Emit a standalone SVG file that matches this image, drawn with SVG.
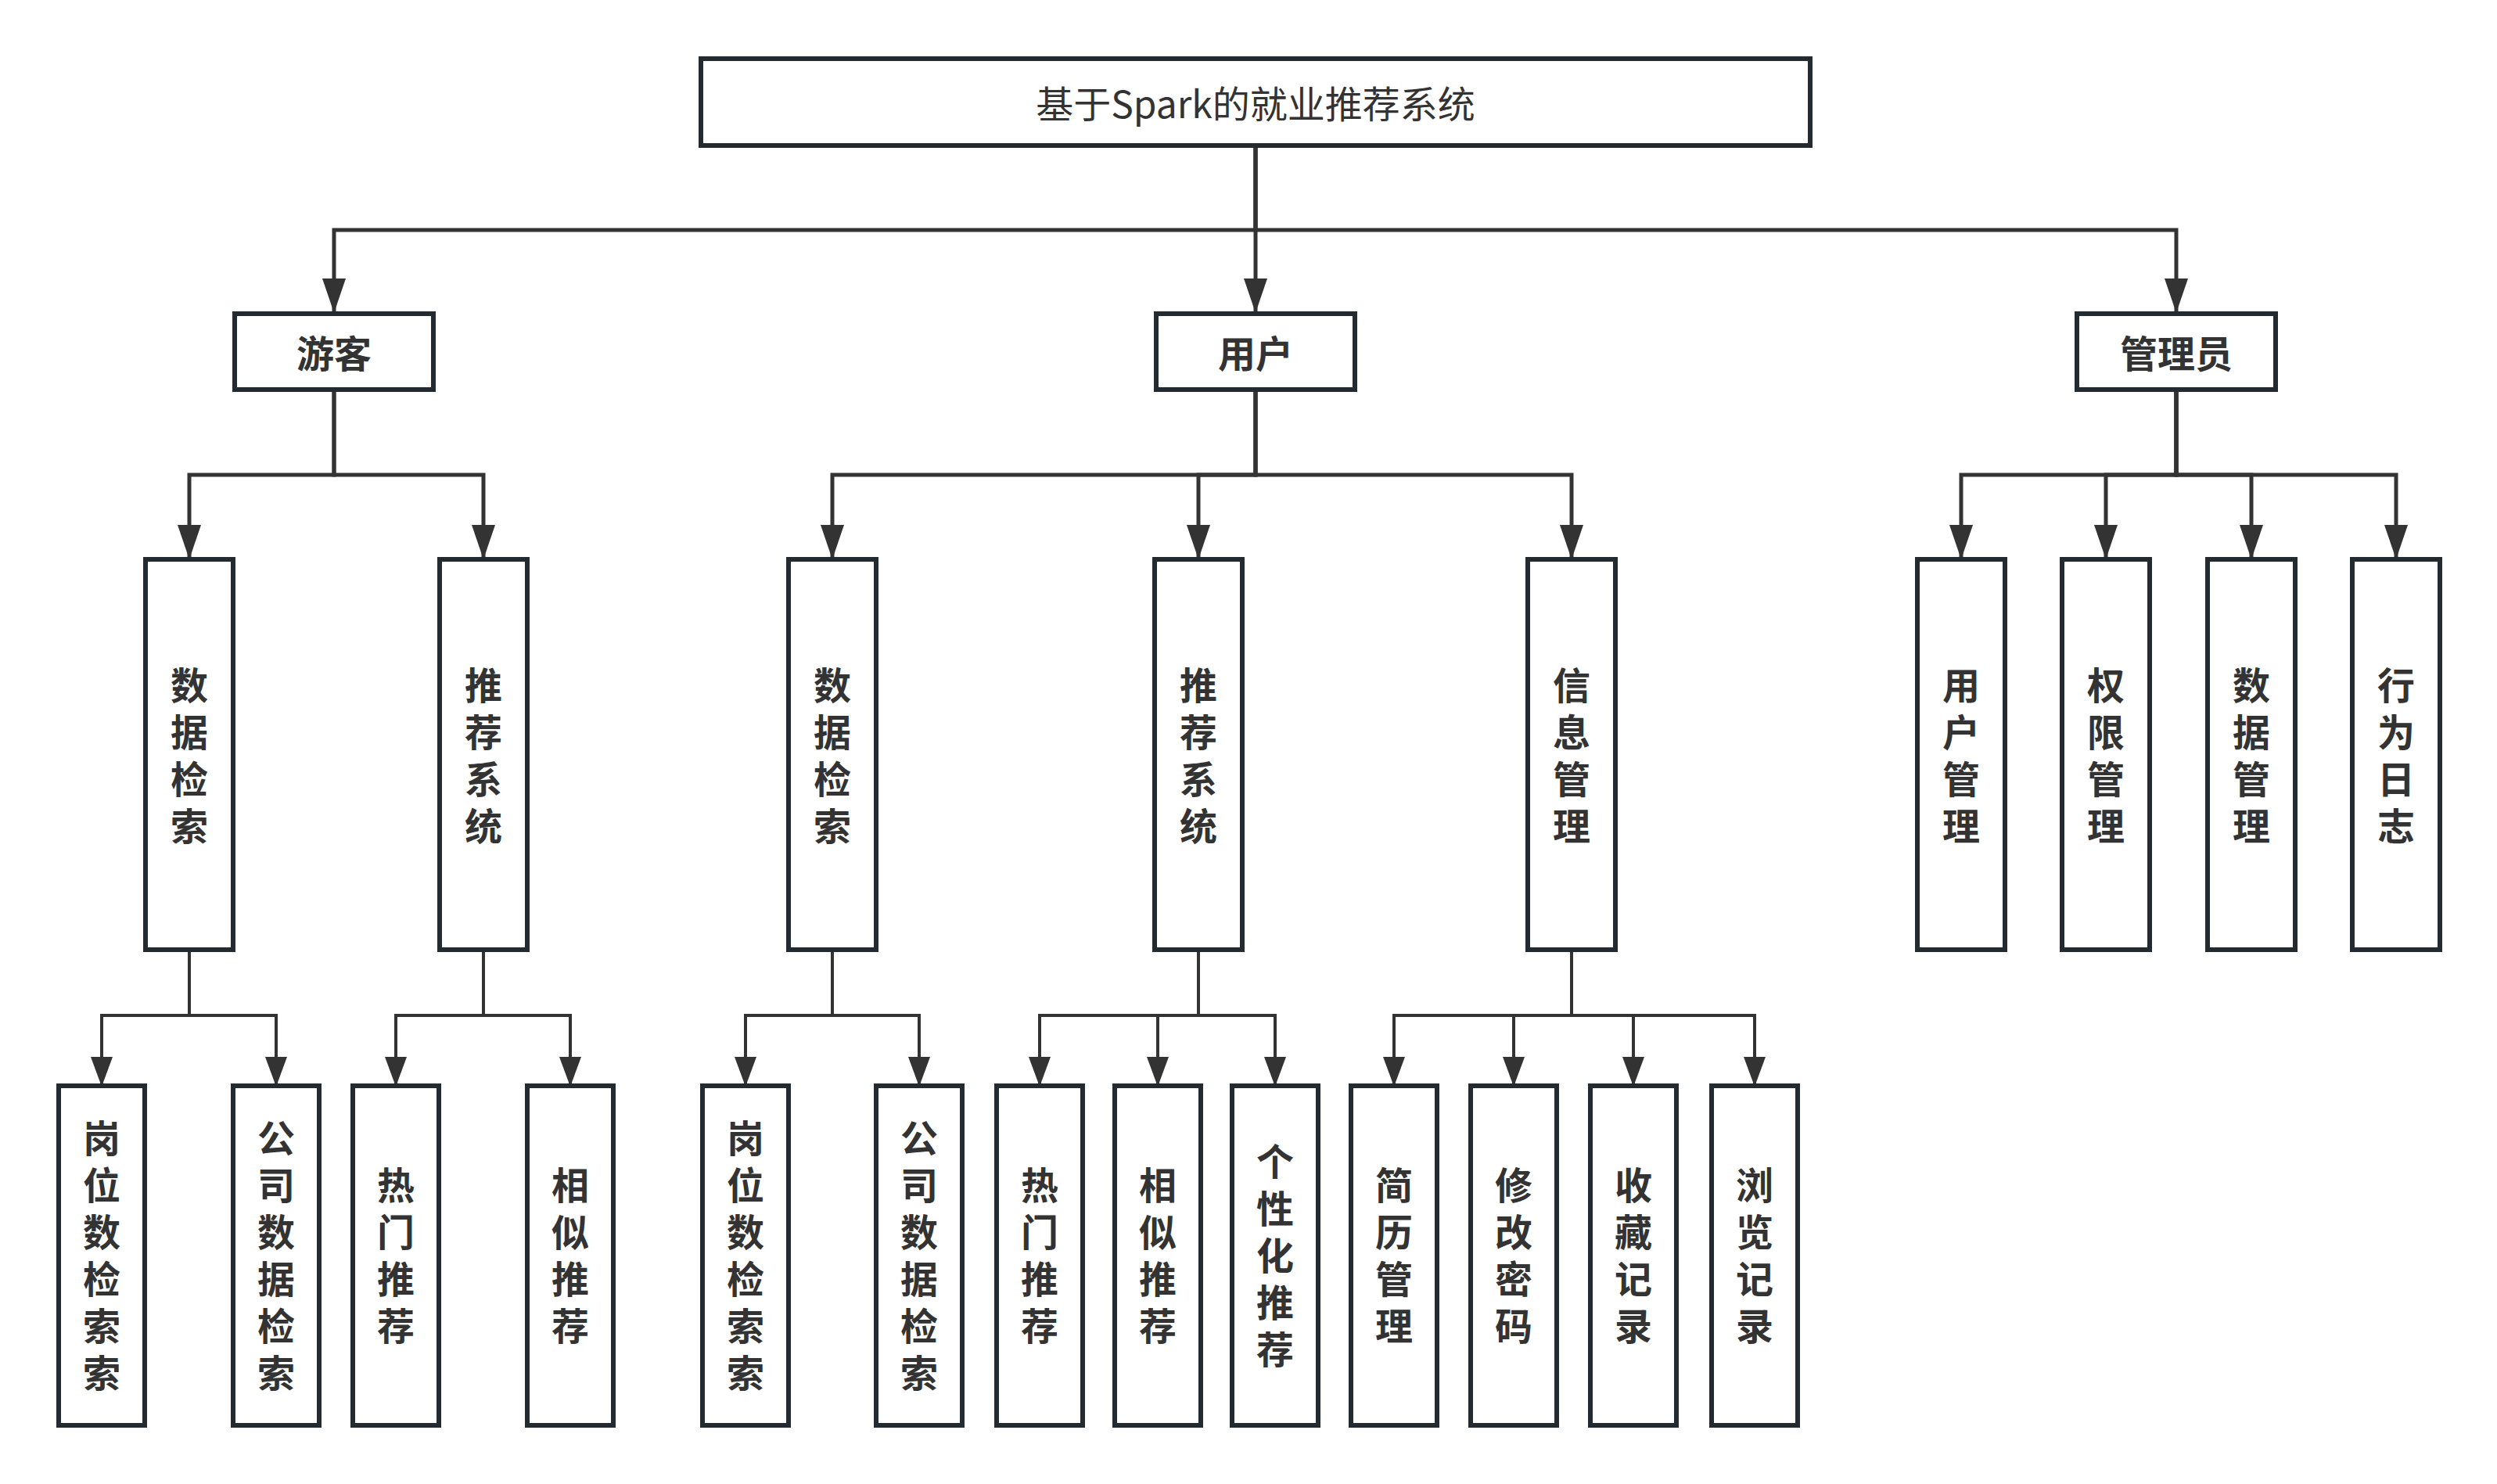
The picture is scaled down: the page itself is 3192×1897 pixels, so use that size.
<svg xmlns="http://www.w3.org/2000/svg" width="3192" height="1897" viewBox="0 0 3192 1897">
<style>
.box{fill:#ffffff;stroke:#232a30;stroke-width:6}
.t{font-family:"Noto Sans CJK SC","Noto Sans",sans-serif;fill:#333333;text-anchor:middle;dominant-baseline:central}
.b{font-weight:bold;font-size:48px}
.v{font-family:"Noto Sans CJK SC","Noto Sans",sans-serif;fill:#333333;font-weight:bold;font-size:48px;writing-mode:vertical-rl;text-orientation:upright;letter-spacing:12px;text-anchor:middle}
.title{font-size:48px}
.c1{fill:none;stroke:#333333;stroke-width:5;marker-end:url(#a1)}
.c2{fill:none;stroke:#333333;stroke-width:4;marker-end:url(#a2)}
</style>
<defs>
<marker id="a1" markerUnits="userSpaceOnUse" markerWidth="44" markerHeight="30" viewBox="0 0 44 30" refX="44" refY="15" orient="auto">
<path d="M0,0 L44,15 L0,30 Z" fill="#333333"/>
</marker>
<marker id="a2" markerUnits="userSpaceOnUse" markerWidth="38" markerHeight="28" viewBox="0 0 38 28" refX="38" refY="14" orient="auto">
<path d="M0,0 L38,14 L0,28 Z" fill="#333333"/>
</marker>
</defs>
<rect width="3192" height="1897" fill="#ffffff"/>
<g id="connectors">
<path class="c1" d="M1605,189 V294 H427 V400"/>
<path class="c1" d="M1605,189 V400"/>
<path class="c1" d="M1605,189 V294 H2782 V400"/>
<path class="c1" d="M427,501 V607 H242 V715"/>
<path class="c1" d="M427,501 V607 H618 V715"/>
<path class="c1" d="M1605,501 V607 H1064 V715"/>
<path class="c1" d="M1605,501 V607 H1532 V715"/>
<path class="c1" d="M1605,501 V607 H2009 V715"/>
<path class="c1" d="M2782,501 V607 H2507 V715"/>
<path class="c1" d="M2782,501 V607 H2692 V715"/>
<path class="c1" d="M2782,501 V607 H2878 V715"/>
<path class="c1" d="M2782,501 V607 H3063 V715"/>
<path class="c2" d="M242,1217 V1298 H130 V1389"/>
<path class="c2" d="M242,1217 V1298 H353 V1389"/>
<path class="c2" d="M618,1217 V1298 H506 V1389"/>
<path class="c2" d="M618,1217 V1298 H729 V1389"/>
<path class="c2" d="M1064,1217 V1298 H953 V1389"/>
<path class="c2" d="M1064,1217 V1298 H1175 V1389"/>
<path class="c2" d="M1532,1217 V1298 H1329 V1389"/>
<path class="c2" d="M1532,1217 V1298 H1480 V1389"/>
<path class="c2" d="M1532,1217 V1298 H1630 V1389"/>
<path class="c2" d="M2009,1217 V1298 H1782 V1389"/>
<path class="c2" d="M2009,1217 V1298 H1935 V1389"/>
<path class="c2" d="M2009,1217 V1298 H2088 V1389"/>
<path class="c2" d="M2009,1217 V1298 H2243 V1389"/>
</g>
<g id="root"><rect class="box" x="896" y="75" width="1418" height="111"/><text class="t title" x="1605" y="130">基于Spark的就业推荐系统</text></g>
<g id="youke"><rect class="box" x="300" y="401" width="254" height="97"/><text class="t b" x="427" y="449">游客</text></g>
<g id="yonghu"><rect class="box" x="1478" y="401" width="254" height="97"/><text class="t b" x="1605" y="449">用户</text></g>
<g id="guanliyuan"><rect class="box" x="2655" y="401" width="254" height="97"/><text class="t b" x="2782" y="449">管理员</text></g>

<g id="yk-sjjs"><rect class="box" x="186" y="715" width="112" height="499"/><text class="v" x="242" y="972">数据检索</text></g>
<g id="yk-tjxt"><rect class="box" x="562" y="715" width="112" height="499"/><text class="v" x="618" y="972">推荐系统</text></g>
<g id="yh-sjjs"><rect class="box" x="1008" y="715" width="112" height="499"/><text class="v" x="1064" y="972">数据检索</text></g>
<g id="yh-tjxt"><rect class="box" x="1476" y="715" width="112" height="499"/><text class="v" x="1532" y="972">推荐系统</text></g>
<g id="yh-xxgl"><rect class="box" x="1953" y="715" width="112" height="499"/><text class="v" x="2009" y="972">信息管理</text></g>
<g id="gl-yhgl"><rect class="box" x="2451" y="715" width="112" height="499"/><text class="v" x="2507" y="972">用户管理</text></g>
<g id="gl-qxgl"><rect class="box" x="2636" y="715" width="112" height="499"/><text class="v" x="2692" y="972">权限管理</text></g>
<g id="gl-sjgl"><rect class="box" x="2822" y="715" width="112" height="499"/><text class="v" x="2878" y="972">数据管理</text></g>
<g id="gl-xwrz"><rect class="box" x="3007" y="715" width="112" height="499"/><text class="v" x="3063" y="972">行为日志</text></g>

<g id="yk-gwsjss"><rect class="box" x="75" y="1388" width="110" height="434"/><text class="v" x="130" y="1611">岗位数检索索</text></g>
<g id="yk-gssjjs"><rect class="box" x="298" y="1388" width="110" height="434"/><text class="v" x="353" y="1611">公司数据检索</text></g>
<g id="yk-rmtj"><rect class="box" x="451" y="1388" width="110" height="434"/><text class="v" x="506" y="1611">热门推荐</text></g>
<g id="yk-xstj"><rect class="box" x="674" y="1388" width="110" height="434"/><text class="v" x="729" y="1611">相似推荐</text></g>
<g id="yh-gwsjss"><rect class="box" x="898" y="1388" width="110" height="434"/><text class="v" x="953" y="1611">岗位数检索索</text></g>
<g id="yh-gssjjs"><rect class="box" x="1120" y="1388" width="110" height="434"/><text class="v" x="1175" y="1611">公司数据检索</text></g>
<g id="yh-rmtj"><rect class="box" x="1274" y="1388" width="110" height="434"/><text class="v" x="1329" y="1611">热门推荐</text></g>
<g id="yh-xstj"><rect class="box" x="1425" y="1388" width="110" height="434"/><text class="v" x="1480" y="1611">相似推荐</text></g>
<g id="yh-gxhtj"><rect class="box" x="1575" y="1388" width="110" height="434"/><text class="v" x="1630" y="1611">个性化推荐</text></g>
<g id="yh-jlgl"><rect class="box" x="1727" y="1388" width="110" height="434"/><text class="v" x="1782" y="1611">简历管理</text></g>
<g id="yh-xgmm"><rect class="box" x="1880" y="1388" width="110" height="434"/><text class="v" x="1935" y="1611">修改密码</text></g>
<g id="yh-scjl"><rect class="box" x="2033" y="1388" width="110" height="434"/><text class="v" x="2088" y="1611">收藏记录</text></g>
<g id="yh-lljl"><rect class="box" x="2188" y="1388" width="110" height="434"/><text class="v" x="2243" y="1611">浏览记录</text></g>
</svg>
